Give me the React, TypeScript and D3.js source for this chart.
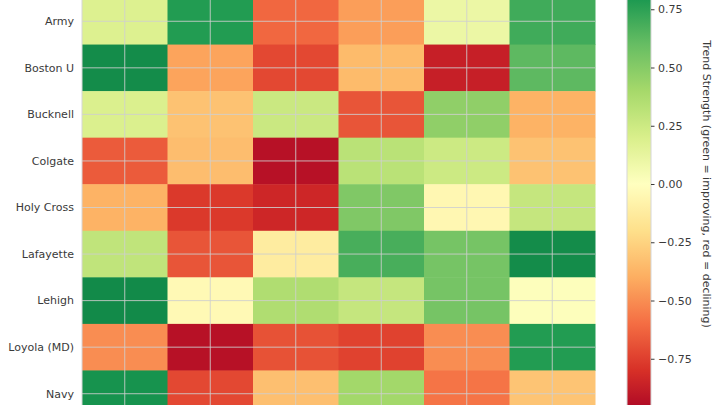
import React, { useEffect, useRef } from "react";
import * as d3 from "d3";

const teams = ["Army", "Boston U", "Bucknell", "Colgate", "Holy Cross", "Lafayette", "Lehigh", "Loyola (MD)", "Navy"];

// one row per team, six columns left to right
const armyTrend = [0.18, 0.78, -0.62, -0.45, 0.1, 0.7];
const bostonTrend = [0.85, -0.43, -0.72, -0.35, -0.87, 0.62];
const bucknellTrend = [0.19, -0.32, 0.26, -0.68, 0.47, -0.38];
const colgateTrend = [-0.66, -0.34, -0.93, 0.32, 0.25, -0.32];
const holyCrossTrend = [-0.38, -0.77, -0.84, 0.52, -0.05, 0.28];
const lafayetteTrend = [0.3, -0.68, -0.12, 0.68, 0.55, 0.85];
const lehighTrend = [0.86, -0.04, 0.36, 0.28, 0.55, 0.01];
const loyolaTrend = [-0.5, -0.93, -0.69, -0.74, -0.5, 0.78];
const navyTrend = [0.82, -0.72, -0.33, 0.41, -0.58, -0.31];

const trendRows = [armyTrend, bostonTrend, bucknellTrend, colgateTrend, holyCrossTrend, lafayetteTrend, lehighTrend, loyolaTrend, navyTrend];

const colorbarTicks = [-0.75, -0.5, -0.25, 0, 0.25, 0.5, 0.75];

// matplotlib RdYlGn stops
const rdylgn = ["#a50026", "#d73027", "#f46d43", "#fdae61", "#fee08b", "#ffffbf", "#d9ef8b", "#a6d96a", "#66bd63", "#1a9850", "#006837"];

const App = () => {
  const ref = useRef<SVGSVGElement>(null);

  useEffect(() => {
    const svg = d3.select(ref.current);
    svg.selectAll("*").remove();

    const color = d3
      .scaleLinear<string>()
      .domain(d3.range(11).map(i => -1 + i * 0.2))
      .range(rdylgn)
      .interpolate(d3.interpolateRgb)
      .clamp(true);

    const left = 82, right = 595, top = -2, bottom = 417;
    const cols = d3.range(armyTrend.length);

    const x = d3.scaleBand<number>().domain(cols).range([left, right]);
    const y = d3.scaleBand<string>().domain(teams).range([top, bottom]);

    const g = svg.append("g");

    trendRows.forEach((row, ri) => {
      g.selectAll(null)
        .data(row)
        .enter()
        .append("rect")
        .attr("x", (_, ci) => x(ci)!)
        .attr("y", y(teams[ri])!)
        .attr("width", x.bandwidth() + 0.5)
        .attr("height", y.bandwidth() + 0.5)
        .attr("fill", d => color(d));
    });

    // grid lines through cell centres
    g.selectAll(".vgrid")
      .data(cols)
      .enter()
      .append("line")
      .attr("x1", d => x(d)! + x.bandwidth() / 2)
      .attr("x2", d => x(d)! + x.bandwidth() / 2)
      .attr("y1", top)
      .attr("y2", bottom)
      .attr("stroke", "#cfcfcf")
      .attr("stroke-opacity", 0.85)
      .attr("stroke-width", 1);

    g.selectAll(".hgrid")
      .data(teams)
      .enter()
      .append("line")
      .attr("x1", left)
      .attr("x2", right)
      .attr("y1", d => y(d)! + y.bandwidth() / 2)
      .attr("y2", d => y(d)! + y.bandwidth() / 2)
      .attr("stroke", "#cfcfcf")
      .attr("stroke-opacity", 0.85)
      .attr("stroke-width", 1);

    g.append("line")
      .attr("x1", left).attr("x2", left)
      .attr("y1", top).attr("y2", bottom)
      .attr("stroke", "#d6d6d6");

    g.selectAll(".ylab")
      .data(teams)
      .enter()
      .append("text")
      .attr("x", left - 8)
      .attr("y", d => y(d)! + y.bandwidth() / 2)
      .attr("dy", "0.35em")
      .attr("text-anchor", "end")
      .attr("font-family", "DejaVu Sans")
      .attr("font-size", 11)
      .attr("fill", "#3a3a3a")
      .text(d => d);

    // colorbar
    const cbLeft = 627, cbWidth = 24;
    const cbScale = d3.scaleLinear().domain([-1, 1]).range([417, -49]);

    const defs = svg.append("defs");
    const grad = defs
      .append("linearGradient")
      .attr("id", "cbgrad")
      .attr("x1", 0).attr("y1", 1).attr("x2", 0).attr("y2", 0);
    d3.range(0, 1.0001, 0.02).forEach(t => {
      grad.append("stop").attr("offset", t).attr("stop-color", color(-1 + 2 * t));
    });

    svg.append("rect")
      .attr("x", cbLeft)
      .attr("y", cbScale(1))
      .attr("width", cbWidth)
      .attr("height", cbScale(-1) - cbScale(1))
      .attr("fill", "url(#cbgrad)")
      .attr("stroke", "#d6d6d6")
      .attr("stroke-width", 1);

    const cbAxis = svg
      .append("g")
      .attr("transform", `translate(${cbLeft + cbWidth},0)`)
      .call(
        d3.axisRight(cbScale)
          .tickValues(colorbarTicks)
          .tickSize(3.5)
          .tickPadding(3.5)
          .tickFormat(d => d3.format(".2f")(d as number).replace("-", "\u2212"))
      );
    cbAxis.select(".domain").remove();
    cbAxis.selectAll("line").attr("stroke", "#3a3a3a");
    cbAxis.selectAll("text")
      .attr("font-family", "DejaVu Sans")
      .attr("font-size", 11)
      .attr("fill", "#3a3a3a");

    svg.append("text")
      .attr("transform", `translate(707,${cbScale(0)}) rotate(90)`)
      .attr("text-anchor", "middle")
      .attr("dy", "0.35em")
      .attr("font-family", "DejaVu Sans")
      .attr("font-size", 11)
      .attr("fill", "#3a3a3a")
      .text("Trend Strength (green = improving, red = declining)");
  }, []);

  return (
    <svg
      ref={ref}
      width={720}
      height={405}
      style={{ position: "absolute", left: 0, top: 0, background: "#fff" }}
    />
  );
};

export default App;
